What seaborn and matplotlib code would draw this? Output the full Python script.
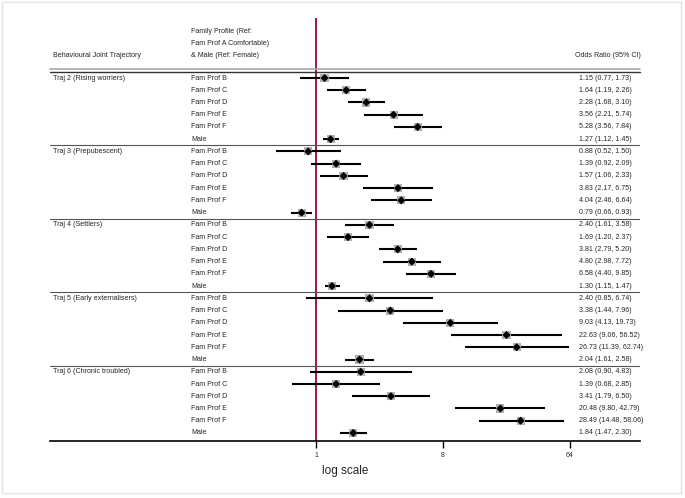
import matplotlib
matplotlib.use("Agg")
import matplotlib.pyplot as plt
import matplotlib.transforms as mtransforms
from matplotlib.patches import Rectangle
import numpy as np
import pandas as pd
import seaborn as sns

sns.set_theme(style="white")
plt.rcParams['font.family'] = ['Liberation Sans', 'DejaVu Sans']

# ---------------- data ----------------
trajectories = ["Traj 2 (Rising worriers)", "Traj 3 (Prepubescent)", "Traj 4 (Settlers)",
                "Traj 5 (Early externalisers)", "Traj 6 (Chronic troubled)"]
predictors = ["Fam Prof B", "Fam Prof C", "Fam Prof D", "Fam Prof E", "Fam Prof F", "Male"]

or_traj2 = [1.15, 1.64, 2.28, 3.56, 5.28, 1.27]
lo_traj2 = [0.77, 1.19, 1.68, 2.21, 3.56, 1.12]
hi_traj2 = [1.73, 2.26, 3.10, 5.74, 7.84, 1.45]

or_traj3 = [0.88, 1.39, 1.57, 3.83, 4.04, 0.79]
lo_traj3 = [0.52, 0.92, 1.06, 2.17, 2.46, 0.66]
hi_traj3 = [1.50, 2.09, 2.33, 6.75, 6.64, 0.93]

or_traj4 = [2.40, 1.69, 3.81, 4.80, 6.58, 1.30]
lo_traj4 = [1.61, 1.20, 2.79, 2.98, 4.40, 1.15]
hi_traj4 = [3.58, 2.37, 5.20, 7.72, 9.85, 1.47]

or_traj5 = [2.40, 3.38, 9.03, 22.63, 26.73, 2.04]
lo_traj5 = [0.85, 1.44, 4.13, 9.06, 11.39, 1.61]
hi_traj5 = [6.74, 7.96, 19.73, 56.52, 62.74, 2.58]

or_traj6 = [2.08, 1.39, 3.41, 20.48, 28.49, 1.84]
lo_traj6 = [0.90, 0.68, 1.79, 9.80, 14.48, 1.47]
hi_traj6 = [4.83, 2.85, 6.50, 42.79, 58.06, 2.30]

x_ticks = [1, 8, 64]
x_tick_labels = ["1", "8", "64"]

header_traj = "Behavioural Joint Trajectory"
header_pred = ["Family Profile (Ref:", "Fam Prof A Comfortable)", "& Male (Ref: Female)"]
header_or = "Odds Ratio (95% CI)"
x_label = "log scale"

# ---------------- table ----------------
ors = [or_traj2, or_traj3, or_traj4, or_traj5, or_traj6]
los = [lo_traj2, lo_traj3, lo_traj4, lo_traj5, lo_traj6]
his = [hi_traj2, hi_traj3, hi_traj4, hi_traj5, hi_traj6]
rows = []
for g, t in enumerate(trajectories):
    for k, p in enumerate(predictors):
        rows.append(dict(traj=t, pred=p, OR=ors[g][k], lo=los[g][k], hi=his[g][k],
                         row=g * len(predictors) + k))
df = pd.DataFrame(rows)

# ---------------- figure ----------------
W, H = 685, 498
fig = plt.figure(figsize=(W / 100, H / 100), dpi=100)
fig.patch.set_facecolor("white")

def px(x):
    return x / W

ax_left, ax_right = 50, 640
ax_top, ax_bot = 18, 441
ax = fig.add_axes([px(ax_left), 1 - ax_bot / H, px(ax_right - ax_left), (ax_bot - ax_top) / H])
ax.set_facecolor("none")

# x: log2 scale with 1 at px 316, 8 at px 443
ppu = (443 - 316) / 3.0
ax.set_xscale("log", base=2)
ax.set_xlim(2 ** ((ax_left - 316) / ppu), 2 ** ((ax_right - 316) / ppu))
# y: row i at px 78 + 12.24 i
y0, dy = 78, 12.24
ax.set_ylim((ax_bot - y0) / dy, (ax_top - y0) / dy)

# reference line
ax.axvline(1, color="#9b1b3a", lw=1.4, zorder=1)

# CIs
ax.hlines(df["row"], df["lo"], df["hi"], color="black", lw=1.5, zorder=2)
# markers
sns.scatterplot(data=df, x="OR", y="row", marker="s", s=34, color="#b0b0b0",
                edgecolor="none", ax=ax, zorder=3, legend=False)
sns.scatterplot(data=df, x="OR", y="row", marker="D", s=17, color="black",
                edgecolor="none", ax=ax, zorder=4, legend=False)

# spines / ticks
for s in ["top", "left", "right"]:
    ax.spines[s].set_visible(False)
ax.spines["bottom"].set_color("black")
ax.spines["bottom"].set_linewidth(1.2)
ax.set_yticks([])
ax.set_xticks(x_ticks)
ax.set_xticklabels(x_tick_labels)
ax.xaxis.set_minor_locator(matplotlib.ticker.NullLocator())
ax.tick_params(axis="x", direction="out", length=5, width=1, color="black",
               labelsize=5, pad=3, bottom=True)
ax.set_xlabel("")
ax.set_ylabel("")

trans = mtransforms.blended_transform_factory(fig.transFigure, ax.transData)
fs = 5.15

# header text
hy = (55 - y0) / dy
ax.text(px(53), hy, header_traj, transform=trans, fontsize=fs, va="center", ha="left")
for j, t in enumerate(header_pred):
    ax.text(px(191), hy - (2 - j) * (11.7 / dy), t, transform=trans, fontsize=fs,
            va="center", ha="left", clip_on=False)
ax.text(px(641), hy, header_or, transform=trans, fontsize=fs, va="center", ha="right")

# header lines
ax.plot([px(ax_left), px(ax_right)], [(69 - y0) / dy] * 2, transform=trans,
        color="#a8a8a8", lw=1.2, clip_on=False, zorder=1)
ax.plot([px(ax_left), px(ax_right)], [(72 - y0) / dy] * 2, transform=trans,
        color="#333333", lw=1.0, clip_on=False, zorder=1)

# group separators
n = len(predictors)
for g in range(1, len(trajectories)):
    ax.plot([px(ax_left), px(ax_right)], [g * n - 0.5] * 2, transform=trans,
            color="#555555", lw=0.8, zorder=1)

# row text
for _, r in df.iterrows():
    if r["row"] % n == 0:
        ax.text(px(53), r["row"], r["traj"], transform=trans, fontsize=fs, va="center")
    ax.text(px(191), r["row"], r["pred"], transform=trans, fontsize=fs, va="center")
    ax.text(px(579), r["row"], f"{r['OR']:.2f} ({r['lo']:.2f}, {r['hi']:.2f})",
            transform=trans, fontsize=fs, va="center")

# x label
fig.text(px(345), 1 - 471 / H, x_label, fontsize=8.5, ha="center", va="center")

# outer frame
fig.patches.append(Rectangle((px(2), 1 - 493 / H), px(679), 491 / H, transform=fig.transFigure,
                             fill=False, edgecolor="#dfe6ea", lw=1.0))

fig.savefig("out.png", dpi=100, facecolor="white")
